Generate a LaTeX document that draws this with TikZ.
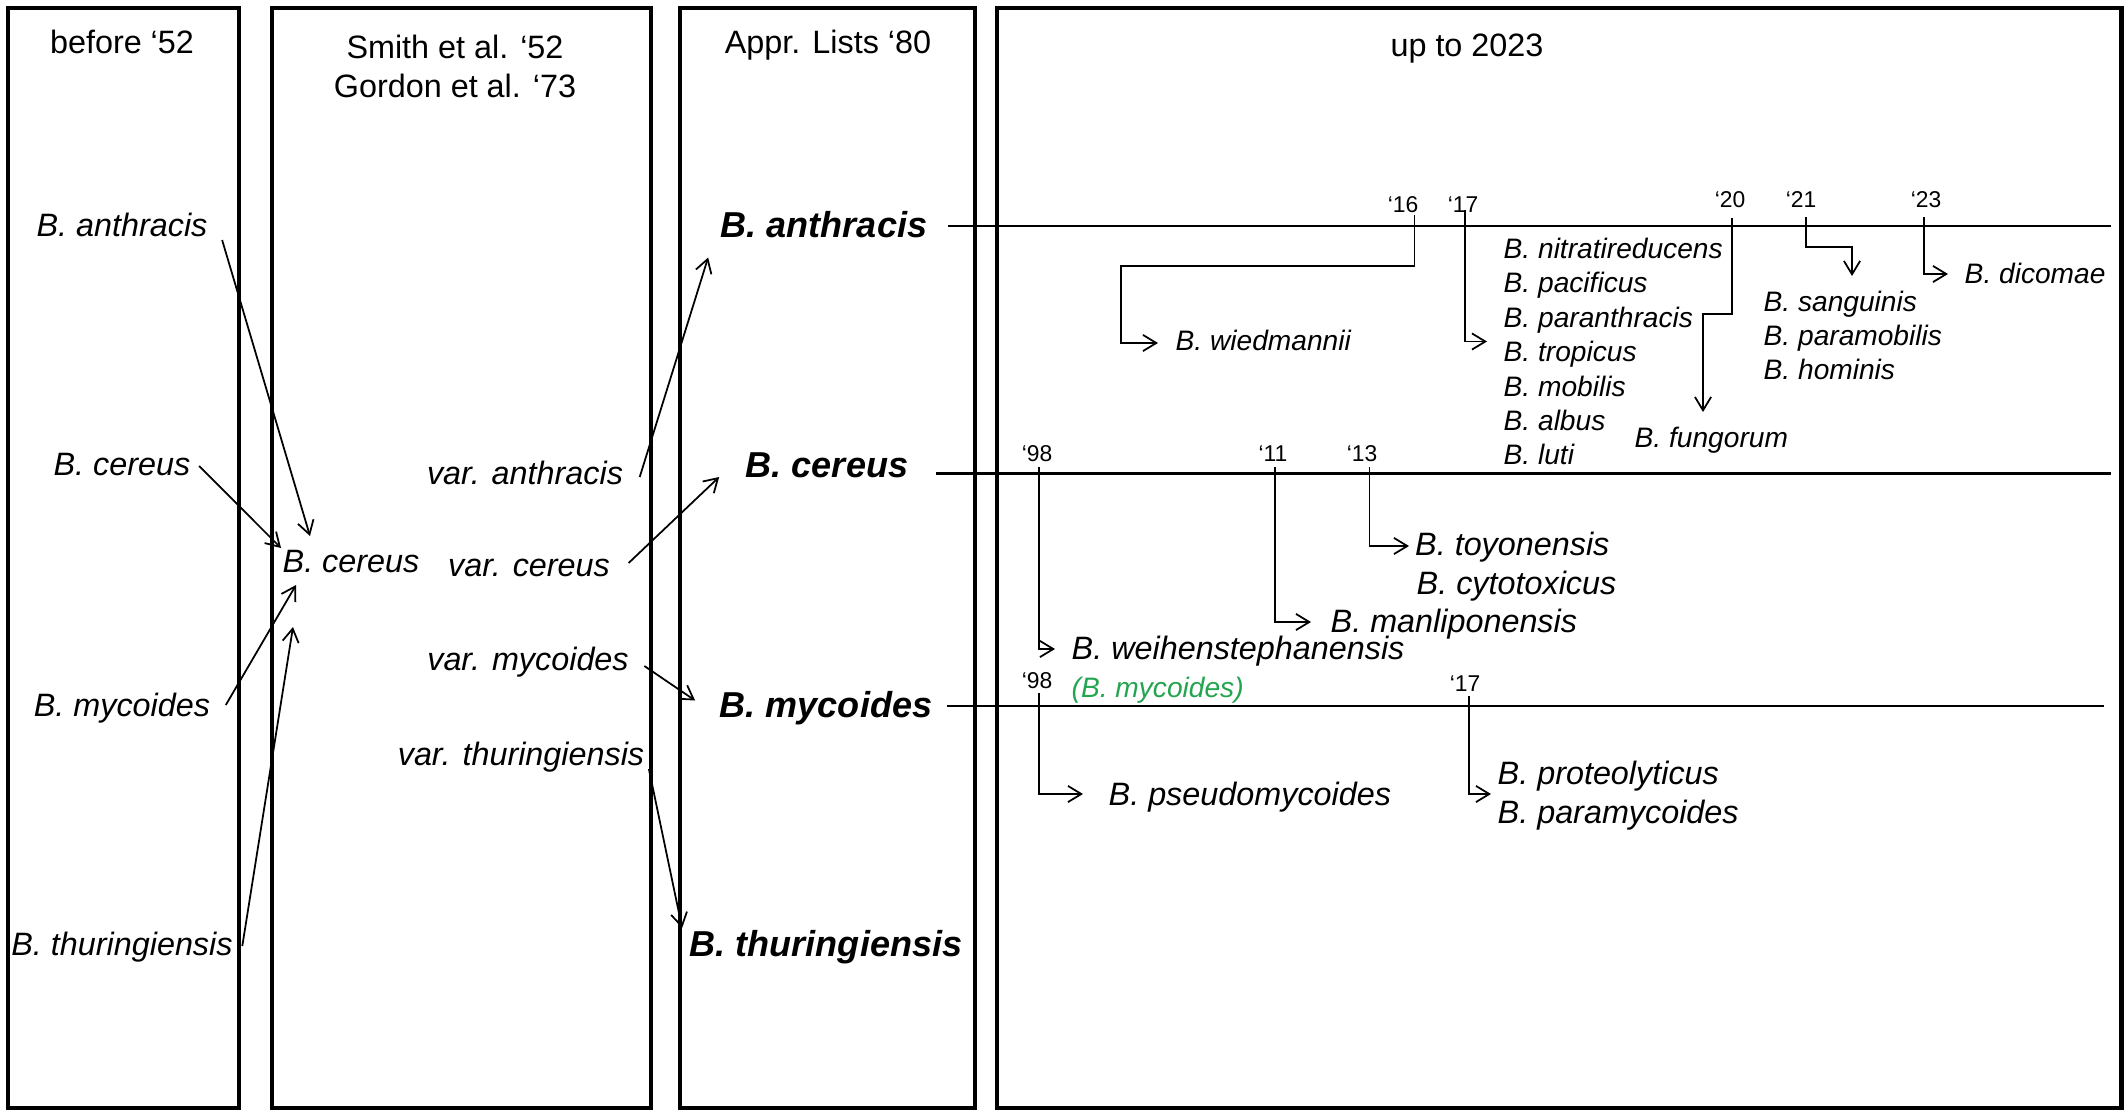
\documentclass[tikz,border=0pt]{standalone}
\usepackage{fontspec}
\setmainfont{Liberation Sans}
\usetikzlibrary{arrows.meta}
\definecolor{grn}{RGB}{35,165,80}
\begin{document}
\begin{tikzpicture}[x=0.01cm,y=-0.01cm,
 box/.style={line width=1.4pt},
 con/.style={line width=0.5pt,-{Straight Barb[length=3.8pt,width=4.6pt]}},
 tl/.style={line width=0.7pt},
 ttl/.style={inner sep=0pt,anchor=base,font=\fontsize{9.2}{11}\selectfont},
 sp/.style={inner sep=0pt,font=\fontsize{9.2}{11}\selectfont\itshape},
 spb/.style={inner sep=0pt,anchor=base,font=\fontsize{10.25}{12}\selectfont\bfseries\itshape},
 sps/.style={inner sep=0pt,anchor=base west,font=\fontsize{8}{10}\selectfont\itshape},
 yr/.style={inner sep=0pt,anchor=base,font=\fontsize{6.5}{8}\selectfont}]
\useasboundingbox (0,0) rectangle (2128,1115);
% column boxes
\draw[box] (8,8) rectangle (239,1108);
\draw[box] (272,8) rectangle (651,1108);
\draw[box] (680,8) rectangle (975,1108);
\draw[box] (997,8) rectangle (2121,1108);
% titles
\node[ttl] (t1) at (122,54) {before ‘52};
\node[ttl] (t2a) at (455,58) {Smith et al. ‘52};
\node[ttl] (t2b) at (455,97) {Gordon et al. ‘73};
\node[ttl] (t3) at (828,54) {Appr. Lists ‘80};
\node[ttl] (t4) at (1467,57) {up to 2023};
% column 1
\node[sp,anchor=base] (a1) at (122,236) {B. anthracis};
\node[sp,anchor=base] (c1) at (122,475) {B. cereus};
\node[sp,anchor=base] (m1) at (122,716) {B. mycoides};
\node[sp,anchor=base] (th1) at (122,955) {B. thuringiensis};
% column 2
\node[sp,anchor=base west] (c2) at (282,572) {B. cereus};
\node[sp,anchor=base] (va) at (525,484) {var. anthracis};
\node[sp,anchor=base] (vc) at (529,576) {var. cereus};
\node[sp,anchor=base] (vm) at (528,670) {var. mycoides};
\node[sp,anchor=base] (vt) at (521,765) {var. thuringiensis};
% column 3
\node[spb] (A3) at (824,237.5) {B. anthracis};
\node[spb] (C3) at (827,477) {B. cereus};
\node[spb] (M3) at (826,717.5) {B. mycoides};
\node[spb] (T3) at (826,956) {B. thuringiensis};
% arrows col1 -> col2
\draw[con] ([shift={(14,4)}]a1.base east) -- ([shift={(28,-36)}]c2.base west);
\draw[con] ([shift={(8,-9)}]c1.base east) -- ([shift={(-1,-24)}]c2.base west);
\draw[con] ([shift={(15,-11)}]m1.base east) -- ([shift={(14,13)}]c2.base west);
\draw[con] ([shift={(9,-9)}]th1.base east) -- ([shift={(11,55)}]c2.base west);
% arrows col2 -> col3
\draw[con] ([shift={(16,-7)}]va.base east) -- ([shift={(-12,20)}]A3.base west);
\draw[con] ([shift={(18,-13)}]vc.base east) -- ([shift={(-26,0)}]C3.base west);
\draw[con] ([shift={(15,-4)}]vm.base east) -- ([shift={(-24,-17)}]M3.base west);
\draw[con] ([shift={(4,4)}]vt.base east) -- ([shift={(-7,-28)}]T3.base west);
% timelines
\coordinate (rA) at (2111,226);
\coordinate (rC) at (2111,473.5);
\coordinate (rM) at (2104,706);
\draw[tl] ([shift={(20,-11.5)}]A3.base east) -- (rA);
\draw[tl] ([shift={(27,-3.5)}]C3.base east) -- (rC);
\draw[tl] ([shift={(14,-11.5)}]M3.base east) -- (rM);
% year labels
\node[yr] (y16) at (1403,212) {‘16};
\node[yr] (y17a) at (1463,212) {‘17};
\node[yr] (y20) at (1730,207) {‘20};
\node[yr] (y21) at (1801,207) {‘21};
\node[yr] (y23) at (1926,207) {‘23};
\node[yr] (y98a) at (1037,461) {‘98};
\node[yr] (y11) at (1273,461) {‘11};
\node[yr] (y13) at (1362,461) {‘13};
\node[yr] (y98b) at (1037,688) {‘98};
\node[yr] (y17b) at (1465,691) {‘17};
% new species (anthracis line)
\node[sps] (wied) at (1175,350) {B. wiedmannii};
\node[sps] (nit) at (1503,258) {B. nitratireducens};
\node[sps] (pac) at (1503,292.5) {B. pacificus};
\node[sps] (par) at (1503,327) {B. paranthracis};
\node[sps] (tro) at (1503,361.5) {B. tropicus};
\node[sps] (mob) at (1503,396) {B. mobilis};
\node[sps] (alb) at (1503,430) {B. albus};
\node[sps] (lut) at (1503,464) {B. luti};
\node[sps] (fung) at (1634,447) {B. fungorum};
\node[sps] (sang) at (1763,311) {B. sanguinis};
\node[sps] (pmob) at (1763,345) {B. paramobilis};
\node[sps] (hom) at (1763,379) {B. hominis};
\node[sps] (dic) at (1964,283) {B. dicomae};
% new species (cereus line)
\node[sp,anchor=base west] (toyo) at (1414.5,555) {B. toyonensis};
\node[sp,anchor=base west] (cyto) at (1416,594) {B. cytotoxicus};
\node[sp,anchor=base west] (manl) at (1330,632) {B. manliponensis};
\node[sp,anchor=base west] (weih) at (1071,659) {B. weihenstephanensis};
\node[sps,text=grn] (bmy) at (1071,697) {(B. mycoides)};
% new species (mycoides line)
\node[sp,anchor=base west] (pseudo) at (1108,805) {B. pseudomycoides};
\node[sp,anchor=base west] (prot) at (1497,784) {B. proteolyticus};
\node[sp,anchor=base west] (pmyc) at (1497,823) {B. paramycoides};
% year connectors
\draw[con] ([shift={(11.5,3)}]y16.base) -- ++(0,51) -| ([shift={(-54,-7)}]wied.base west) -- ([shift={(-17,-7)}]wied.base west);
\draw[con] ([shift={(2,-2)}]y17a.base) |- ([shift={(-16,-20)}]tro.base west);
\draw[con] ([shift={(2,11)}]y20.base) -- ++(0,96) -| ([shift={(69,-35)}]fung.base west);
\draw[con] ([shift={(5,10)}]y21.base) -- ++(0,30) -| ([shift={(89,-35)}]sang.base west);
\draw[con] ([shift={(-2,10)}]y23.base) |- ([shift={(-16,-9)}]dic.base west);
\draw[con] ([shift={(2,6)}]y98a.base) |- ([shift={(-16,-10)}]weih.base west);
\draw[con] ([shift={(2,6)}]y11.base) |- ([shift={(-19,-10)}]manl.base west);
\draw[con] ([shift={(7.5,6)}]y13.base) |- ([shift={(-5.5,-9)}]toyo.base west);
\draw[con] ([shift={(2,5)}]y98b.base) |- ([shift={(-25,-11)}]pseudo.base west);
\draw[con] ([shift={(4,5)}]y17b.base) |- ([shift={(-6,10)}]prot.base west);
\end{tikzpicture}
\end{document}
